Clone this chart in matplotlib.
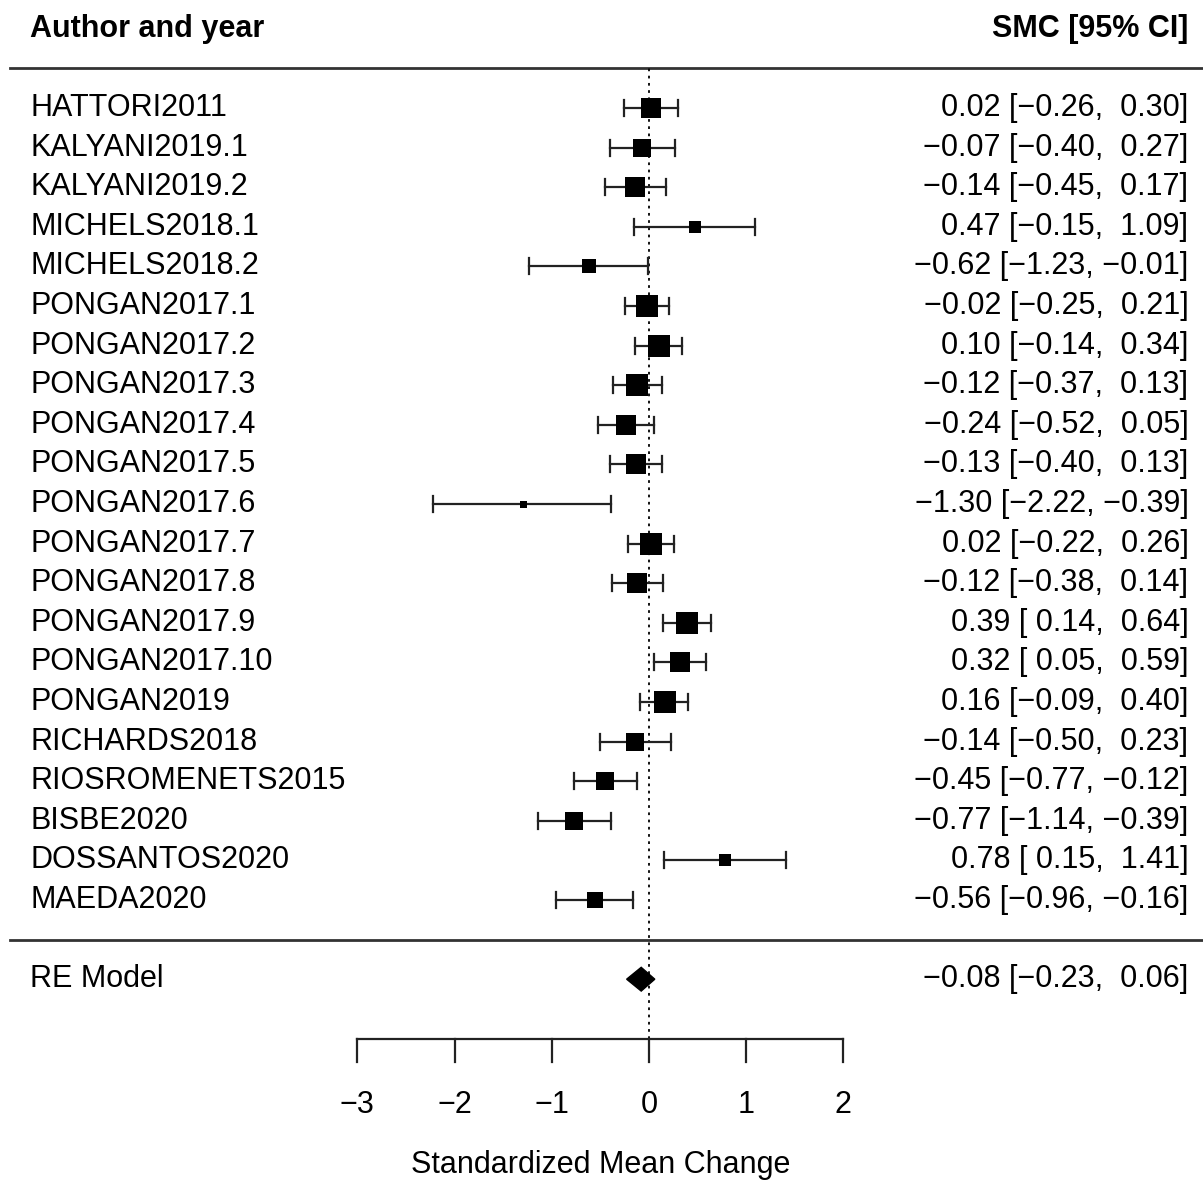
import numpy as np
import matplotlib.pyplot as plt

plt.rcParams['font.family'] = ['Liberation Sans', 'DejaVu Sans']

# study data
studies = ['HATTORI2011', 'KALYANI2019.1', 'KALYANI2019.2', 'MICHELS2018.1', 'MICHELS2018.2',
           'PONGAN2017.1', 'PONGAN2017.2', 'PONGAN2017.3', 'PONGAN2017.4', 'PONGAN2017.5',
           'PONGAN2017.6', 'PONGAN2017.7', 'PONGAN2017.8', 'PONGAN2017.9', 'PONGAN2017.10',
           'PONGAN2019', 'RICHARDS2018', 'RIOSROMENETS2015', 'BISBE2020', 'DOSSANTOS2020',
           'MAEDA2020']
est = [0.02, -0.07, -0.14, 0.47, -0.62, -0.02, 0.10, -0.12, -0.24, -0.13, -1.30,
       0.02, -0.12, 0.39, 0.32, 0.16, -0.14, -0.45, -0.77, 0.78, -0.56]
lower = [-0.26, -0.40, -0.45, -0.15, -1.23, -0.25, -0.14, -0.37, -0.52, -0.40, -2.22,
         -0.22, -0.38, 0.14, 0.05, -0.09, -0.50, -0.77, -1.14, 0.15, -0.96]
upper = [0.30, 0.27, 0.17, 1.09, -0.01, 0.21, 0.34, 0.13, 0.05, 0.13, -0.39,
         0.26, 0.14, 0.64, 0.59, 0.40, 0.23, -0.12, -0.39, 1.41, -0.16]
re_label = 'RE Model'
re_est, re_lower, re_upper = -0.08, -0.23, 0.06
xticks = [-3, -2, -1, 0, 1, 2]
xlabel = 'Standardized Mean Change'

def fmt(v, w=5):
    return ('%.2f' % v).rjust(w).replace('-', '\u2212')

def ci_text(e, lo, hi):
    return '%s [%s, %s]' % (fmt(e, 0), fmt(lo), fmt(hi))

k = len(studies)
rows = np.arange(k, 0, -1)
est = np.array(est); lower = np.array(lower); upper = np.array(upper)

# square size from inverse standard error (like metafor)
se = (upper - lower) / (2 * 1.96)
wi = 1 / se
norm = (wi - wi.min()) / (wi.max() - wi.min())
side_px = 7 + 15 * np.sqrt(norm)

fig = plt.figure(figsize=(12.03, 11.85), dpi=100)
ax = fig.add_axes([0, 0, 1, 1])
ax.set_xlim(-6.677, 5.70)
ax.set_ylim(-6.197, 23.727)
ax.axis('off')

fs = 22
xl = -6.368
xr = 5.55
xline0 = -6.57

# header
ax.text(xl, k + 2, 'Author and year', ha='left', va='center', fontsize=fs, fontweight='bold')
ax.text(xr, k + 2, 'SMC [95% CI]', ha='right', va='center', fontsize=fs, fontweight='bold')
ax.plot([xline0, 5.70], [k + 1, k + 1], color='#333333', lw=2)
ax.plot([xline0, 5.70], [0, 0], color='#333333', lw=2)

# reference line
yaxis = -2.52
ax.plot([0, 0], [yaxis, k + 1], color='black', lw=1.3, ls=(0, (1.5, 2.5)))

# studies
cap = 0.2
for i in range(k):
    y = rows[i]
    ax.plot([lower[i], upper[i]], [y, y], color='#222222', lw=1.6)
    ax.plot([lower[i], lower[i]], [y - cap, y + cap], color='#222222', lw=1.6)
    ax.plot([upper[i], upper[i]], [y - cap, y + cap], color='#222222', lw=1.6)
    ax.scatter(est[i], y, marker='s', s=(side_px[i] * 0.72) ** 2, color='black',
               linewidths=0, zorder=3)
    ax.text(xl, y, studies[i], ha='left', va='center', fontsize=fs)
    ax.text(xr, y, ci_text(est[i], lower[i], upper[i]), ha='right', va='center', fontsize=fs)

# summary diamond
ax.fill([re_lower, re_est, re_upper, re_est], [-1, -0.7, -1, -1.3], color='black', zorder=3)
ax.text(xl, -1, re_label, ha='left', va='center', fontsize=fs)
ax.text(xr, -1, ci_text(re_est, re_lower, re_upper), ha='right', va='center', fontsize=fs)

# x axis
ax.plot([xticks[0], xticks[-1]], [yaxis, yaxis], color='#222222', lw=1.6)
for t in xticks:
    ax.plot([t, t], [yaxis, yaxis - 0.56], color='#222222', lw=1.6)
    ax.text(t, -4.18, fmt(t, 0).replace('.00', ''), ha='center', va='center', fontsize=fs)
ax.text(np.mean([xticks[0], xticks[-1]]), -5.69, xlabel, ha='center', va='center', fontsize=fs)

fig.savefig('out.png', dpi=100)
